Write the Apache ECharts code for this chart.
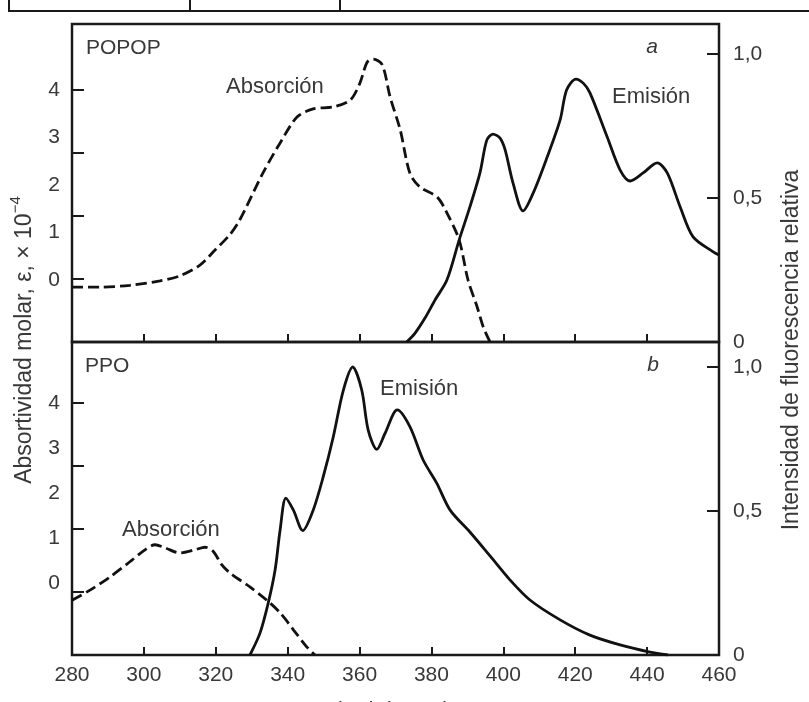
<!DOCTYPE html>
<html>
<head>
<meta charset="utf-8">
<script src="https://cdn.jsdelivr.net/npm/echarts@6/dist/echarts.min.js"></script>
<style>
  html, body { margin: 0; padding: 0; background: #fff; }
  #chart { width: 809px; height: 702px; }
</style>
</head>
<body>
<div id="chart"></div>
<script>
// longitud de onda (nm), ejes
const xTicks = [280, 300, 320, 340, 360, 380, 400, 420, 440, 460];
const leftLabels = [0, 1, 2, 3, 4];
const rightLabelValues = [0, 0.5, 1];
const rightLabelTexts = ['0', '0,5', '1,0'];

// POPOP (panel a): [nm, ε×10^-4] y [nm, intensidad relativa]
const popopAbsorcion = [
  [280, 0.87], [287.8, 0.87], [296.1, 0.9], [304.5, 0.97], [310, 1.05],
  [315.6, 1.22], [319.8, 1.46], [324, 1.71], [326.7, 1.94], [333.1, 2.68],
  [337.9, 3.16], [342.6, 3.57], [347.1, 3.7], [352.6, 3.73], [357.4, 3.84],
  [360.1, 4.11], [362.1, 4.44], [363.8, 4.49], [366.3, 4.4], [368.5, 3.89],
  [371.3, 3.37], [374, 2.68], [376.8, 2.46], [381.6, 2.3], [384.3, 2.05],
  [387.7, 1.62], [390.2, 0.98], [392.7, 0.56], [394.4, 0.24], [396.3, 0]
];
const popopEmision = [
  [373.1, 0], [375.4, 0.03], [378.2, 0.083], [381, 0.146], [384.3, 0.215],
  [387.7, 0.354], [390.7, 0.469], [393.5, 0.587], [395.4, 0.701], [397.1, 0.722],
  [399.1, 0.708], [400.5, 0.667], [402.7, 0.552], [405.5, 0.455], [408.3, 0.517],
  [412.2, 0.642], [415.8, 0.771], [417.6, 0.875], [420.2, 0.913], [422.3, 0.898],
  [424.1, 0.865], [428.9, 0.712], [432.5, 0.597], [435.3, 0.559], [438.9, 0.587],
  [442.8, 0.622], [445.6, 0.587], [449.2, 0.469], [452.8, 0.365], [458.4, 0.313],
  [460, 0.302]
];

// PPO (panel b)
const ppoAbsorcion = [
  [280, 0.87], [285, 1.03], [290.6, 1.24], [296.1, 1.48], [300.3, 1.67],
  [303.1, 1.75], [305.9, 1.7], [310, 1.62], [314.2, 1.67], [317, 1.71],
  [319.2, 1.65], [321.7, 1.43], [324, 1.3], [329.5, 1.08], [334.2, 0.87],
  [337.9, 0.67], [341.6, 0.4], [345.3, 0.13], [347.6, 0]
];
const ppoEmision = [
  [329.5, 0], [332.3, 0.076], [334.6, 0.181], [336.5, 0.295], [337.9, 0.434],
  [339.5, 0.545], [341.6, 0.503], [344.2, 0.432], [347.1, 0.503], [349.9, 0.619],
  [352.7, 0.758], [355.5, 0.92], [358.1, 1.0], [360.6, 0.92], [362.4, 0.781],
  [364.8, 0.714], [367.1, 0.77], [370.5, 0.851], [374, 0.793], [377.7, 0.677],
  [381.5, 0.596], [385.2, 0.503], [390.7, 0.427], [396.3, 0.344], [401.9, 0.26],
  [407.4, 0.191], [415.8, 0.122], [424.1, 0.069], [432.5, 0.035], [440.8, 0.01],
  [445.8, 0]
];

const FONT = '"Liberation Sans", Arial, sans-serif';
const INK = '#1a1a1a';
const TXT = '#383838';

const chart = echarts.init(document.getElementById('chart'), null, { renderer: 'canvas' });

const frameX = (grid, labels) => ({
  type: 'value', gridIndex: grid, min: xTicks[0], max: xTicks[xTicks.length - 1], interval: 20,
  axisLine: { show: false },
  axisTick: { show: true, inside: true, length: 8, lineStyle: { color: INK, width: 2 } },
  axisLabel: { show: labels, margin: 10, fontSize: 21, color: TXT, fontFamily: FONT },
  splitLine: { show: false }
});
const hiddenX = (grid) => ({ type: 'value', gridIndex: grid, min: 280, max: 460, show: false });

const leftTrue = (grid, max) => ({
  type: 'value', gridIndex: grid, position: 'left', min: 0, max: max, interval: 1,
  axisLine: { show: false },
  axisTick: { show: true, inside: true, length: 12, customValues: [1, 2, 3, 4], lineStyle: { color: INK, width: 2 } },
  axisLabel: { show: false },
  splitLine: { show: false }
});
const rightAxis = (grid, max) => ({
  type: 'value', gridIndex: grid, position: 'right', min: 0, max: max, interval: 0.5,
  axisLine: { show: false },
  axisTick: { show: true, inside: true, length: 12, customValues: [0.5, 1], lineStyle: { color: INK, width: 2 } },
  axisLabel: {
    show: true, customValues: rightLabelValues, margin: 14, fontSize: 21, color: TXT, fontFamily: FONT,
    formatter: (v) => rightLabelTexts[rightLabelValues.indexOf(v)] ?? ''
  },
  splitLine: { show: false }
});
const leftLabelAxis = (grid) => ({
  type: 'value', gridIndex: grid, position: 'left', min: leftLabels[0], max: leftLabels[leftLabels.length - 1], interval: 1,
  axisLine: { show: false }, axisTick: { show: false }, splitLine: { show: false },
  axisLabel: { show: true, margin: 12, fontSize: 21, color: TXT, fontFamily: FONT }
});

const curve = (x, y, data, dashed) => ({
  type: 'line', xAxisIndex: x, yAxisIndex: y, data: data, smooth: 0.3,
  showSymbol: false, silent: true,
  lineStyle: { color: '#111', width: 2.8, type: dashed ? [11, 5] : 'solid' }
});

const txt = (text, x, y, extra) => ({
  type: 'text', x: x, y: y, silent: true,
  style: Object.assign({ text: text, font: '21px ' + FONT, fill: TXT, align: 'left', verticalAlign: 'middle' }, extra || {})
});

const gridBase = { left: 72, right: 90, outerBoundsMode: 'none', containLabel: false };

const option = {
  animation: false,
  backgroundColor: '#fff',
  grid: [
    Object.assign({ top: 24, height: 318, show: true, borderColor: INK, borderWidth: 2.5, backgroundColor: 'transparent' }, gridBase),
    Object.assign({ top: 342, height: 313, show: true, borderColor: INK, borderWidth: 2.5, backgroundColor: 'transparent' }, gridBase),
    Object.assign({ top: 90, height: 190 }, gridBase),
    Object.assign({ top: 403, height: 180 }, gridBase)
  ],
  xAxis: [
    frameX(0, false),
    Object.assign(frameX(1, true), {
      name: 'Longitud de onda, nm', nameLocation: 'middle', nameGap: 45,
      nameTextStyle: { fontSize: 22, color: TXT, fontFamily: FONT }
    }),
    hiddenX(2),
    hiddenX(3)
  ],
  yAxis: [
    leftTrue(0, 318 / 63),
    rightAxis(0, 318 / 288),
    leftTrue(1, 313 / 63),
    rightAxis(1, 313 / 288),
    leftLabelAxis(2),
    leftLabelAxis(3)
  ],
  series: [
    curve(0, 0, popopAbsorcion, true),
    curve(0, 1, popopEmision, false),
    curve(1, 2, ppoAbsorcion, true),
    curve(1, 3, ppoEmision, false)
  ],
  graphic: [
    // bordes de la tabla de arriba
    { type: 'line', silent: true, shape: { x1: 9, y1: 11, x2: 809, y2: 11 }, style: { stroke: INK, lineWidth: 2 } },
    { type: 'line', silent: true, shape: { x1: 9, y1: 0, x2: 9, y2: 12 }, style: { stroke: INK, lineWidth: 2 } },
    { type: 'line', silent: true, shape: { x1: 190, y1: 0, x2: 190, y2: 12 }, style: { stroke: INK, lineWidth: 2 } },
    { type: 'line', silent: true, shape: { x1: 340, y1: 0, x2: 340, y2: 12 }, style: { stroke: INK, lineWidth: 2 } },
    txt('POPOP', 86, 48),
    txt('a', 652, 47, { font: 'italic 21px ' + FONT, align: 'center' }),
    txt('Absorción', 226, 87, { font: '22px ' + FONT }),
    txt('Emisión', 612, 97, { font: '22px ' + FONT }),
    txt('PPO', 85, 366),
    txt('b', 653, 365, { font: 'italic 21px ' + FONT, align: 'center' }),
    txt('Emisión', 380, 389, { font: '22px ' + FONT }),
    txt('Absorción', 122, 530, { font: '22px ' + FONT }),
    Object.assign(txt('{n|Absortividad molar, ε, × 10}{s|−4}', 22, 340, {
      align: 'center',
      rich: {
        n: { fontSize: 23, fontFamily: FONT, fill: TXT, lineHeight: 28, verticalAlign: 'bottom' },
        s: { fontSize: 15, fontFamily: FONT, fill: TXT, lineHeight: 28, verticalAlign: 'top' }
      }
    }), { rotation: Math.PI / 2 }),
    Object.assign(txt('Intensidad de fluorescencia relativa', 792, 350, { font: '23px ' + FONT, align: 'center' }), { rotation: Math.PI / 2 })
  ]
};

chart.setOption(option);
</script>
</body>
</html>
